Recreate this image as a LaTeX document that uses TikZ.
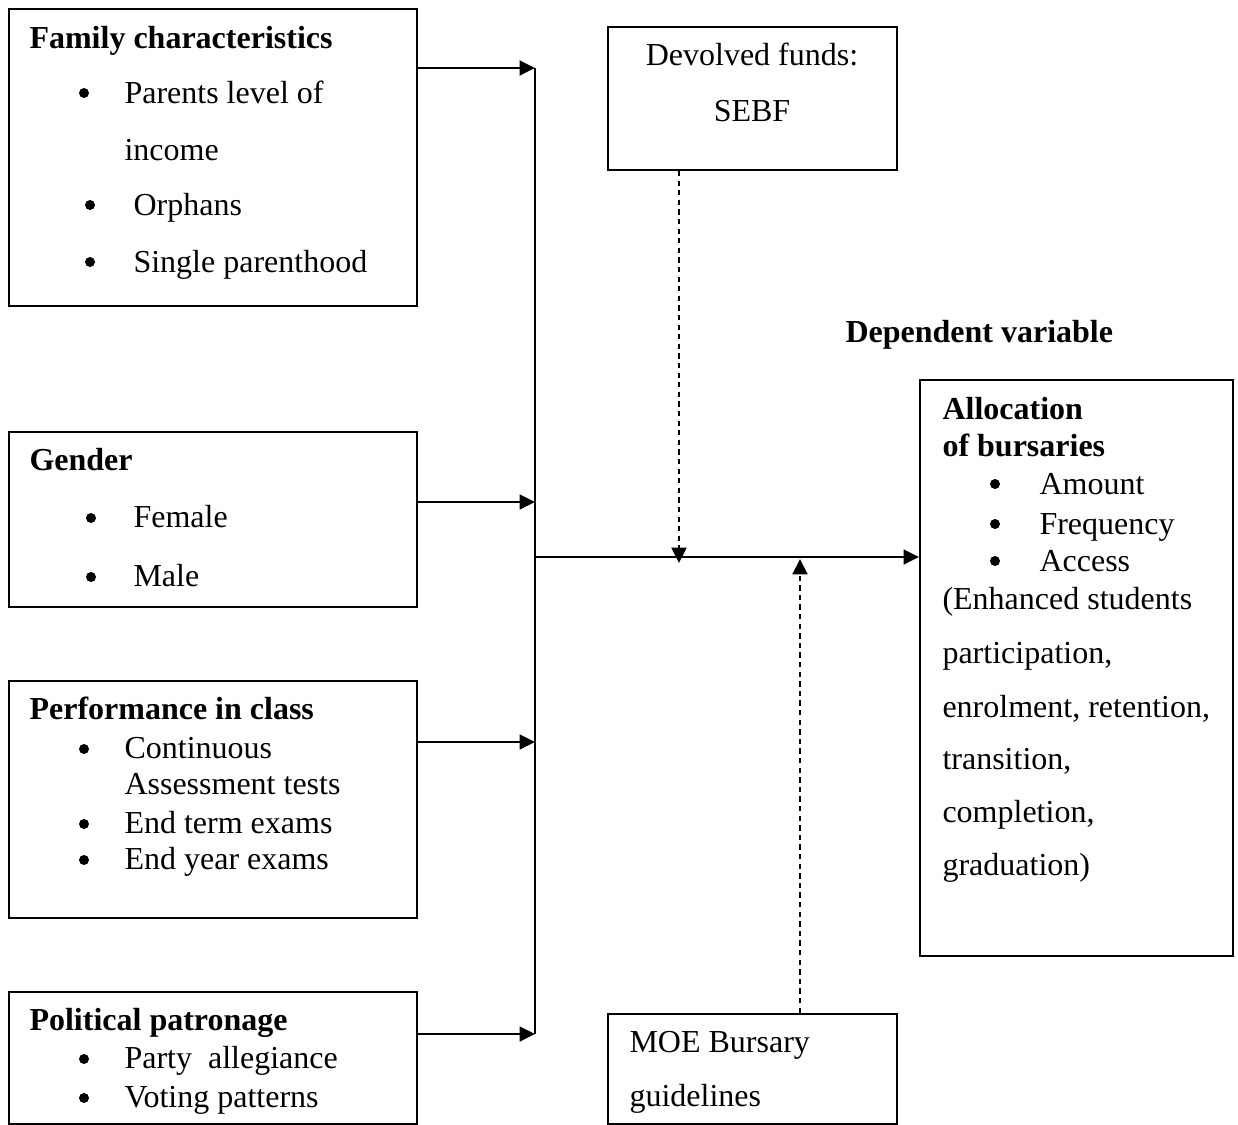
\documentclass[tikz,border=0pt]{standalone}
\usepackage{fontspec}
\setmainfont{Liberation Serif}
\usetikzlibrary{arrows.meta}

\begin{document}
\begin{tikzpicture}[x=0.375pt,y=-0.375pt,font=\fontsize{12}{14}\selectfont,line join=miter,
 >={Triangle[length=5.8pt,width=5.6pt]},
 box/.style={draw,line width=0.75pt,anchor=north west,inner sep=0pt},
 txt/.style={anchor=base west,inner sep=0pt},
 hd/.style={txt,font=\fontsize{12}{14}\selectfont\bfseries},
 dsh/.style={dashed,dash pattern=on 2pt off 1.6pt,line width=0.9pt}]
 \useasboundingbox (0,0) rectangle (1238,1125);
 % boxes
 \node[box,minimum width=153pt,minimum height=111.4pt] (fam) at (8,8) {};
 \node[box,minimum width=153pt,minimum height=65.6pt] (gen) at (8,431) {};
 \node[box,minimum width=153pt,minimum height=88.9pt] (perf) at (8,680) {};
 \node[box,minimum width=153pt,minimum height=49.5pt] (pol) at (8,991) {};
 \node[box,minimum width=108.4pt,minimum height=53.6pt] (dev) at (607,26) {};
 \node[box,minimum width=108.4pt,minimum height=41.2pt] (moe) at (607,1013) {};
 \node[box,minimum width=117.4pt,minimum height=216pt] (alloc) at (919,379) {};
 % headings
 \node[hd] (famhd) at (29,48) {Family characteristics};
 \node[hd] (genhd) at (29,470) {Gender};
 \node[hd] (perfhd) at (29,719) {Performance in class};
 \node[hd] (polhd) at (29,1030) {Political patronage};
 \node[hd] (dephd) at (845,342) {Dependent variable};
 \node[hd] (allochd) at (942,419) {Allocation};
 \node[hd] (allochdb) at (942,456) {of bursaries};
 % list items
 \foreach \n/\x/\y/\t in {fam1/124/103/Parents level of, fam2/124/160/income,
   fam3/133/215/Orphans, fam4/133/272/Single parenthood,
   gen1/133/527/Female, gen2/133/586/Male,
   perf1/124/758/Continuous, perf2/124/794/Assessment tests,
   perf3/124/833/End term exams, perf4/124/869/End year exams,
   pol1/124/1068/Party\ \ allegiance, pol2/124/1107/Voting patterns,
   al1/1039/494/Amount, al2/1039/534/Frequency, al3/1039/571/Access,
   al4/942/609/(Enhanced students, al5/942/663/{participation,},
   al6/942/717/{enrolment, retention,}, al7/942/769/{transition,},
   al8/942/822/{completion,}, al9/942/875/graduation),
   moe1/629/1052/MOE Bursary, moe2/629/1106/guidelines}
 \node[txt] (\n) at (\x,\y) {\t};
 \node[anchor=base,inner sep=0pt] (dev1) at (752,65) {Devolved funds:};
 \node[anchor=base,inner sep=0pt] (dev2) at (752,121) {SEBF};
 % bullets
 \foreach \x/\y in {84/93,90/205,90/262,91/518,91/577,84/749,84/824,84/860,
   84/1059,84/1098,995/484,995/524,995/561}
 \fill (\x,\y) circle (5);
 % connectors
 \coordinate (j1) at (535,68);
 \coordinate (j2) at (535,502);
 \coordinate (j3) at (535,742);
 \coordinate (j4) at (535,1034);
 \coordinate (jm) at (535,557);
 \coordinate (fundtip) at (679,563);
 \coordinate (guidetip) at (800,559);
 \draw[line width=0.7pt] (j1) -- (j4);
 \foreach \b/\j in {fam/j1,gen/j2,perf/j3,pol/j4}
 \draw[->,line width=0.75pt] (\b.east |- \j) -- (\j);
 \draw[->,line width=0.75pt] (jm) -- (alloc.west |- jm);
 \draw[dsh,->] (dev.south -| fundtip) -- (fundtip);
 \draw[dsh,->] (moe.north -| guidetip) -- (guidetip);
\end{tikzpicture}
\end{document}
